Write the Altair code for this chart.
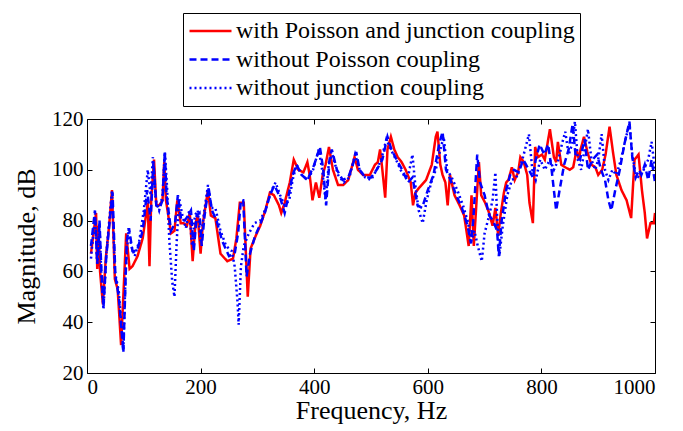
import altair as alt
import pandas as pd

S1 = "with Poisson and junction coupling"
S2 = "without Poisson coupling"
S3 = "without junction coupling"

red_f = [7, 16, 18, 20, 23, 28, 33, 39, 44, 49, 54, 60, 69, 75, 80, 89, 98, 107, 110, 113, 118, 122, 127, 133, 136, 139, 148, 154, 159, 165, 170, 176, 181, 186, 191, 195, 200, 204, 213, 218, 226, 235, 247, 257, 263, 269, 276, 283, 288, 297, 305, 314, 322, 329, 338, 342, 348, 357, 364, 372, 381, 388, 392, 397, 403, 409, 415, 420, 426, 433, 442, 451, 460, 471, 477, 486, 498, 507, 512, 516, 520, 525, 529, 535, 541, 547, 554, 561, 570, 574, 578, 585, 597, 607, 614, 617, 622, 626, 631, 635, 639, 647, 656, 664, 672, 677, 681, 687, 690, 694, 701, 708, 714, 719, 724, 728, 734, 738, 742, 748, 753, 759, 763, 769, 775, 779, 785, 789, 794, 801, 806, 815, 822, 826, 829, 835, 842, 850, 856, 862, 866, 869, 875, 881, 888, 895, 900, 907, 913, 920, 926, 932, 941, 950, 958, 964, 971, 977, 982, 986, 992, 998, 1000]
red_m = [67, 83, 61, 78, 60, 47, 65, 78, 92, 57, 53, 31, 75, 61, 62, 66, 73, 87, 62, 88, 104, 86, 86, 88, 103, 88, 75, 76, 88, 79, 79, 78, 83, 64, 79, 82, 67, 79, 92, 82, 81, 67, 64, 65, 73, 87, 87, 50, 69, 74, 78, 84, 91, 90, 86, 83, 87, 95, 104, 100, 99, 103, 98, 88, 95, 89, 98, 102, 109, 100, 94, 94, 96, 105, 100, 98, 98, 102, 103, 108, 100, 89, 108, 113, 108, 105, 103, 100, 95, 86, 91, 93, 96, 102, 113, 115, 102, 98, 95, 86, 98, 90, 86, 82, 70, 90, 70, 92, 103, 90, 87, 83, 78, 85, 74, 82, 91, 95, 96, 101, 96, 99, 105, 103, 98, 87, 79, 109, 105, 106, 104, 116, 105, 103, 111, 102, 101, 100, 101, 108, 104, 108, 113, 107, 102, 101, 98, 100, 106, 117, 107, 98, 92, 88, 81, 104, 106, 92, 83, 73, 79, 79, 83]

dash_f = [7, 14, 18, 22, 25, 29, 34, 40, 45, 50, 56, 64, 70, 74, 80, 88, 98, 106, 112, 117, 122, 128, 133, 137, 140, 148, 155, 160, 166, 172, 178, 183, 188, 193, 198, 202, 207, 214, 220, 228, 238, 250, 260, 266, 271, 275, 281, 287, 296, 304, 313, 322, 330, 340, 348, 355, 362, 369, 378, 388, 400, 410, 416, 421, 427, 431, 440, 450, 460, 468, 474, 480, 490, 500, 510, 520, 529, 536, 545, 555, 565, 573, 582, 590, 600, 610, 620, 626, 632, 640, 650, 660, 670, 676, 680, 687, 692, 700, 708, 715, 722, 725, 730, 738, 745, 752, 760, 768, 778, 785, 790, 797, 805, 812, 818, 826, 832, 840, 848, 855, 860, 868, 876, 882, 890, 898, 905, 912, 918, 923, 930, 938, 946, 955, 960, 966, 972, 976, 982, 988, 994, 1000]
dash_m = [70, 84, 63, 80, 62, 46, 66, 80, 91, 58, 50, 28, 72, 77, 68, 68, 76, 92, 80, 103, 86, 85, 88, 107, 90, 76, 79, 90, 80, 80, 82, 84, 68, 82, 83, 70, 82, 93, 84, 80, 72, 66, 67, 75, 88, 88, 58, 67, 74, 78, 83, 90, 94, 89, 83, 90, 98, 102, 98, 96, 102, 109, 100, 86, 104, 108, 100, 96, 97, 102, 107, 100, 97, 97, 100, 104, 113, 108, 104, 100, 95, 97, 86, 85, 92, 98, 110, 115, 100, 96, 90, 85, 78, 71, 80, 106, 95, 90, 82, 80, 76, 66, 80, 92, 98, 100, 99, 104, 100, 97, 104, 110, 106, 110, 100, 84, 92, 102, 108, 118, 106, 104, 112, 100, 104, 106, 100, 96, 88, 84, 92, 100, 110, 119, 105, 97, 100, 98, 102, 96, 104, 95]

dot_f = [7, 14, 18, 22, 25, 29, 34, 40, 44, 49, 56, 64, 68, 73, 78, 84, 92, 100, 107, 112, 116, 121, 127, 133, 137, 141, 145, 150, 154, 158, 162, 168, 174, 180, 185, 190, 195, 200, 206, 213, 219, 226, 235, 245, 255, 260, 265, 267, 271, 276, 285, 295, 305, 315, 325, 332, 340, 348, 356, 362, 369, 378, 388, 398, 408, 414, 420, 426, 432, 442, 452, 462, 472, 480, 490, 500, 510, 518, 527, 535, 544, 552, 560, 566, 573, 578, 584, 591, 598, 606, 614, 622, 628, 634, 642, 652, 662, 670, 677, 682, 688, 695, 700, 708, 714, 719, 722, 726, 732, 740, 748, 756, 764, 770, 778, 784, 790, 798, 806, 815, 822, 830, 836, 842, 848, 854, 859, 864, 870, 876, 882, 888, 895, 900, 906, 912, 918, 925, 932, 940, 948, 955, 960, 966, 972, 980, 988, 994, 1000]
dot_m = [65, 82, 63, 79, 60, 45, 67, 82, 92, 60, 52, 29, 60, 77, 70, 66, 72, 84, 100, 90, 105, 88, 84, 90, 107, 93, 72, 56, 50, 72, 89, 82, 77, 84, 70, 82, 84, 72, 83, 94, 85, 85, 76, 70, 68, 62, 48, 39, 62, 70, 75, 79, 80, 85, 92, 95, 90, 86, 88, 96, 102, 98, 96, 100, 108, 100, 88, 103, 106, 98, 95, 97, 106, 100, 97, 96, 100, 104, 112, 108, 104, 100, 97, 98, 106, 94, 84, 79, 88, 95, 100, 108, 113, 100, 97, 92, 86, 80, 72, 76, 70, 64, 75, 82, 88, 99, 82, 66, 78, 90, 96, 97, 102, 107, 114, 100, 96, 104, 100, 104, 100, 104, 110, 115, 106, 110, 119, 104, 100, 108, 116, 104, 100, 104, 114, 100, 96, 100, 98, 104, 112, 118, 106, 98, 97, 100, 104, 111, 100]

x_ticks = [0, 200, 400, 600, 800, 1000]
y_ticks = [20, 40, 60, 80, 100, 120]

rows = []
for name, fs, ms in [(S1, red_f, red_m), (S2, dash_f, dash_m), (S3, dot_f, dot_m)]:
    for i, (f, m) in enumerate(zip(fs, ms)):
        rows.append({"freq": f, "mag": m, "series": name, "order": i})
df = pd.DataFrame(rows)

W, H = 568, 254
FONT = "Liberation Serif"

xs = alt.Scale(domain=[0, 1000], nice=False, zero=False)
ys = alt.Scale(domain=[20, 120], nice=False, zero=False)
cs = alt.Scale(domain=[S1, S2, S3], range=["#ff0000", "#0000ff", "#0000ff"])
ds = alt.Scale(domain=[S1, S2, S3], range=[[1, 0], [7, 4], [2, 3]])

legend = alt.Legend(
    title=None, orient="none", legendX=96, legendY=-106,
    symbolType="stroke", symbolSize=1764, symbolStrokeWidth=2.5,
    clipHeight=26, rowPadding=2.5, padding=5, labelOffset=3,
    labelFont=FONT, labelFontSize=24, labelColor="black", labelLimit=600,
    strokeColor="black", fillColor="white", cornerRadius=0,
)

def layer(series, xaxis, yaxis):
    return alt.Chart(df).transform_filter(alt.datum.series == series).mark_line(
        strokeWidth=2.5, strokeCap="butt", clip=True
    ).encode(
        x=alt.X("freq:Q", scale=xs, axis=xaxis, title="Frequency, Hz"),
        y=alt.Y("mag:Q", scale=ys, axis=yaxis, title="Magnitude, dB"),
        color=alt.Color("series:N", scale=cs, legend=legend),
        strokeDash=alt.StrokeDash("series:N", scale=ds, legend=legend),
        order="order:Q",
    )

common = dict(labelFont=FONT, titleFont=FONT, labelColor="black", titleColor="black",
              tickColor="black", grid=False, domain=False)

ax_x_main = alt.Axis(orient="bottom", values=x_ticks, ticks=False, labelFontSize=21,
                     labelPadding=3, titleFontSize=26, titleFontWeight="normal",
                     titlePadding=0, format="d", **common)
ax_y_main = alt.Axis(orient="left", values=y_ticks, ticks=False, labelFontSize=21,
                     labelPadding=4, titleFontSize=26, titleFontWeight="normal",
                     titlePadding=12, format="d", **common)
ax_x_b = alt.Axis(orient="top", offset=-H, values=x_ticks, labels=False, tickSize=5,
                  title="", **common)
ax_y_b = alt.Axis(orient="right", offset=-W, values=y_ticks, labels=False, tickSize=5,
                  title="", **common)
ax_x_c = alt.Axis(orient="bottom", offset=-H, values=x_ticks, labels=False, tickSize=5,
                  title="", **common)
ax_y_c = alt.Axis(orient="left", offset=-W, values=y_ticks, labels=False, tickSize=5,
                  title="", **common)

chart = alt.layer(
    layer(S1, ax_x_main, ax_y_main),
    layer(S2, ax_x_b, ax_y_b),
    layer(S3, ax_x_c, ax_y_c),
).resolve_axis(x="independent", y="independent").properties(
    width=W, height=H,
    autosize=alt.AutoSizeParams(type="none"),
    padding={"left": 79, "top": 111, "right": 18, "bottom": 52},
    background="white",
).configure_view(stroke="black", strokeWidth=1).configure_axis(
    labelFont=FONT, titleFont=FONT
)

chart.save("out.html", embed_options={"renderer": "svg", "actions": False})
